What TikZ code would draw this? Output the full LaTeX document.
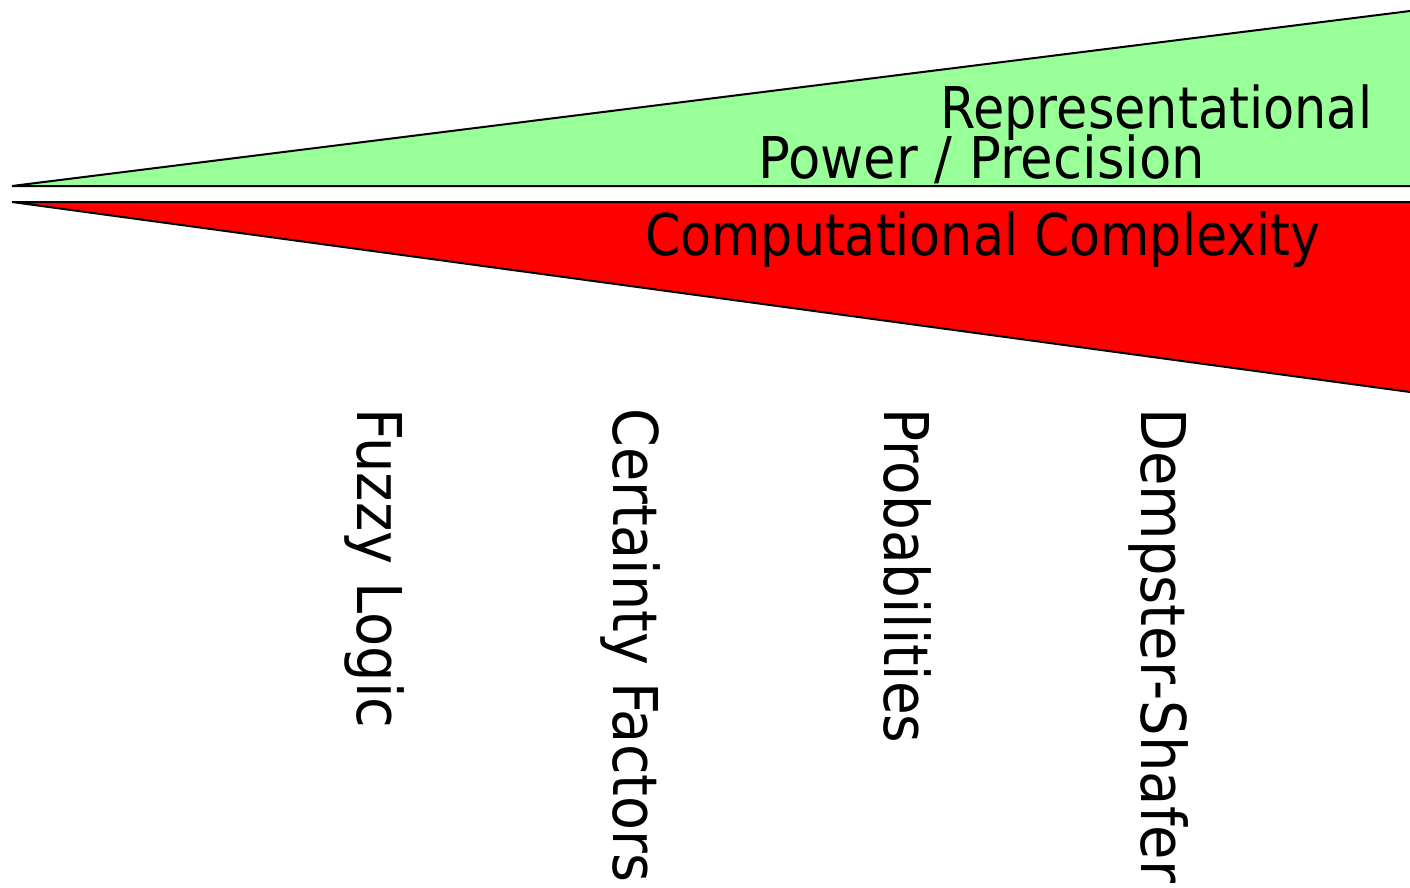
\documentclass[tikz,border=0pt]{standalone}
\usepackage{fontspec}
\setmainfont{DejaVu Sans}
\usepackage{graphicx}
\definecolor{powergreen}{HTML}{99FF99}
\definecolor{costred}{HTML}{FF0000}
% stretch a label to a given width, keeping its height
\newcommand{\fitw}[2]{\resizebox{#1}{\height}{#2}}

\begin{document}
\begin{tikzpicture}[x=1pt,y=-1pt,
   wedge/.style={draw=black, line width=2pt},
   hlabel/.style={inner sep=0pt, anchor=base west, font=\fontsize{57.6}{60}\selectfont},
   vlabel/.style={inner sep=0pt, anchor=base west, rotate=-90, font=\fontsize{61.7}{64}\selectfont}]
   \useasboundingbox (0,0) rectangle (1410,887);
   % upper wedge
   \coordinate (gtip) at (12,186);
   \coordinate (gtop) at (1410,11);
   \coordinate (gbot) at (1410,186);
   \fill[powergreen] (gtip) -- (gtop) -- (gbot) -- cycle;
   \draw[wedge] (gtop) -- (gtip) -- (gbot);
   % lower wedge
   \coordinate (rtip) at (12,202);
   \coordinate (rtop) at (1410,202);
   \coordinate (rbot) at (1410,392);
   \fill[costred] (rtip) -- (rtop) -- (rbot) -- cycle;
   \draw[wedge] (rtop) -- (rtip) -- (rbot);
   % wedge labels
   \node[hlabel] (repr) at (940,128) {\fitw{432pt}{Representational}};
   \node[hlabel] (prec) at (758,178) {\fitw{447pt}{Power / Precision}};
   \node[hlabel] (comp) at (645,255) {\fitw{675pt}{Computational Complexity}};
   % methods
   \node[vlabel] (fuzzy) at (357,408) {\fitw{320pt}{Fuzzy Logic}};
   \node[vlabel] (cert) at (613,408) {\fitw{474pt}{Certainty Factors}};
   \node[vlabel] (prob) at (884,408) {\fitw{335pt}{Probabilities}};
   \node[vlabel] (demp) at (1141,408) {\fitw{475pt}{Dempster-Shafer}};
\end{tikzpicture}
\end{document}
